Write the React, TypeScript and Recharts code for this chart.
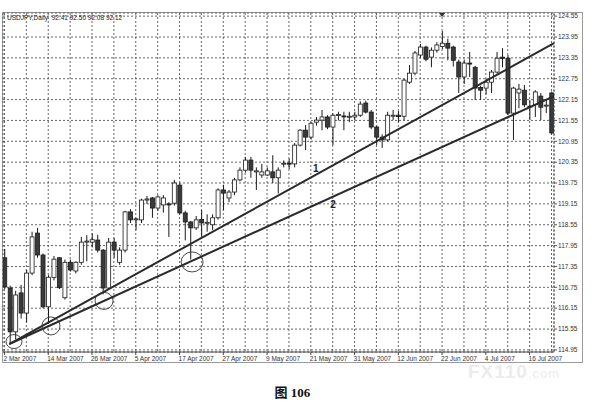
import React from "react";
import { ComposedChart, Bar, XAxis, YAxis, CartesianGrid, ReferenceLine, ReferenceDot } from "recharts";

// ---- data ----
const openP = [117.60,116.73,115.47,116.59,116.01,117.16,118.31,117.68,116.19,117.03,117.60,116.45,117.47,117.22,117.47,118.05,118.05,118.11,117.82,116.73,118.05,117.47,117.82,118.92,118.69,118.69,119.26,119.32,119.03,119.12,119.15,119.17,119.69,118.89,118.63,118.46,118.70,118.60,118.55,118.75,119.55,119.32,119.49,119.84,120.12,120.41,120.07,119.98,119.98,120.07,119.90,120.30,120.32,120.30,120.84,121.27,121.07,121.50,121.56,121.65,121.36,121.70,121.68,121.65,121.65,121.70,122.05,121.79,121.36,121.07,120.99,121.68,121.70,121.67,122.65,122.91,123.43,123.66,123.37,123.57,123.68,123.77,123.66,123.23,122.80,123.20,123.08,122.50,122.48,122.65,122.94,123.37,123.34,121.76,122.34,122.42,121.96,122.00,122.25,121.97,122.34];
const highP = [117.85,116.80,116.65,116.82,117.25,118.35,118.46,117.72,117.10,117.65,117.62,117.55,117.55,117.50,118.20,118.25,118.30,118.26,117.85,118.17,118.17,117.90,118.95,119.00,118.75,119.30,119.38,119.35,119.40,119.40,119.20,119.84,119.75,118.95,118.66,118.80,118.97,118.85,118.85,119.60,119.70,119.55,119.90,120.20,120.50,120.50,120.20,120.30,120.20,120.55,120.20,120.40,120.45,120.90,121.30,121.42,121.50,121.65,121.85,121.70,121.75,121.80,121.80,121.80,121.80,122.10,122.12,121.85,121.40,121.15,121.80,121.85,121.82,122.75,123.14,123.55,123.75,123.70,123.65,123.80,124.12,123.90,123.70,123.30,123.30,123.52,123.12,122.55,122.75,123.00,123.52,123.63,123.43,122.52,122.60,122.57,122.14,122.42,122.34,122.14,122.38];
const lowP = [116.70,115.15,115.25,115.85,115.75,117.10,117.60,116.15,115.70,116.95,116.70,116.40,117.20,117.15,117.40,117.50,117.90,117.75,116.55,116.70,117.60,117.40,117.75,118.60,118.40,118.60,119.15,118.75,118.95,118.90,118.20,119.10,118.85,118.10,117.55,118.40,118.20,118.35,118.40,118.70,118.97,119.20,119.40,119.80,120.05,119.90,119.55,119.90,119.95,119.75,119.45,120.20,120.15,120.20,120.80,120.70,121.00,121.40,121.27,121.30,120.84,121.55,121.27,121.50,121.55,121.65,121.75,121.30,120.84,120.76,120.95,121.56,121.50,121.56,122.60,122.85,123.35,123.25,123.08,123.50,123.60,123.28,123.10,122.34,122.60,122.80,122.14,122.14,122.30,122.34,122.90,123.08,121.70,120.99,121.90,121.93,121.56,121.65,121.56,121.76,121.15];
const closeP = [116.76,115.47,116.53,116.01,117.16,118.20,117.68,116.19,117.04,117.56,116.74,117.47,117.25,117.47,118.05,118.08,118.12,117.82,116.73,118.05,117.82,117.82,118.92,118.69,118.72,119.26,119.29,119.03,119.35,119.32,119.12,119.75,118.89,118.63,118.46,118.69,118.60,118.62,118.75,119.55,119.46,119.49,119.84,120.12,120.41,120.12,120.10,120.07,120.10,119.90,120.12,120.32,120.30,120.84,121.27,121.07,121.47,121.56,121.65,121.36,121.70,121.72,121.66,121.67,121.70,122.02,121.79,121.36,121.07,120.99,121.70,121.70,121.66,122.71,122.91,123.49,123.66,123.31,123.57,123.72,123.77,123.63,123.28,122.80,123.20,123.18,122.48,122.42,122.65,122.94,123.34,123.33,121.76,122.48,122.45,122.00,121.93,122.37,121.93,121.99,121.19];

const xLabelIdx = [0, 8, 16, 24, 32, 40, 48, 56, 64, 72, 80, 88, 96];
const xTickLabels = ["2 Mar 2007", "14 Mar 2007", "26 Mar 2007", "5 Apr 2007", "17 Apr 2007", "27 Apr 2007", "9 May 2007", "21 May 2007", "31 May 2007", "12 Jun 2007", "22 Jun 2007", "4 Jul 2007", "16 Jul 2007"];
const xGridIdx = [0, 4, 8, 12, 16, 20, 24, 28, 32, 36, 40, 44, 48, 52, 56, 60, 64, 68, 72, 76, 80, 84, 88, 92, 96, 100];
const yTicks = [114.95, 115.55, 116.15, 116.75, 117.35, 117.95, 118.55, 119.15, 119.75, 120.35, 120.95, 121.55, 122.15, 122.75, 123.35, 123.95, 124.55];

const trendX = [0.88, 100.46];
const trend1Y = [115.12, 123.77];
const trend2Y = [115.12, 122.25];

const circleX = [1.74, 8.5, 18.2, 34.3];
const circleY = [115.19, 115.64, 116.36, 117.48];

const markX = [56.9, 60.05];
const markY = [120.18, 119.12];
const markText = ["1", "2"];

const highMarkX = 80;
const highMarkY = 124.6;

const headerText = "USDJPY,Daily  92.41 92.50 92.08 92.12";
const captionText = "图 106";

// ---- styles ----
const X_MIN = -0.27;
const X_MAX = 100.46;
const Y_MIN = 114.89;
const Y_MAX = 124.64;
const ELLIPSE_R = [[8, 7], [9, 9], [9, 8.5], [11, 10]];
const SANS = "'Liberation Sans', 'DejaVu Sans', sans-serif";

const data = openP.map((o, i) => ({
  i,
  open: o,
  high: highP[i],
  low: lowP[i],
  close: closeP[i],
  range: [lowP[i], highP[i]],
}));

const Candle = (props: any) => {
  const { x, width, payload } = props;
  let { y, height } = props;
  if (!payload || y == null) return null;
  if (height < 0) { y = y + height; height = -height; }
  const { open, close, high, low } = payload;
  const span = high - low;
  const pix = (v: number) => (span > 0 ? y + ((high - v) / span) * height : y);
  const cx = x + width / 2;
  const top = pix(Math.max(open, close));
  const bot = pix(Math.min(open, close));
  const up = close >= open;
  return (
    <g>
      <line x1={cx} x2={cx} y1={y} y2={y + height} stroke="#1a1a1a" strokeWidth={1} />
      <rect x={x} y={top} width={width} height={Math.max(1, bot - top)} fill={up ? "#ffffff" : "#3a3a3a"} stroke="#1a1a1a" strokeWidth={0.8} />
    </g>
  );
};

const XTick = (props: any) => {
  const { x, y, payload } = props;
  const v = payload.value;
  const k = xLabelIdx.indexOf(v);
  if (k < 0) return null;
  return (
    <g>
      <line x1={x} x2={x} y1={y - 2} y2={y + 1} stroke="#444" strokeWidth={1} />
      <text x={x - 1} y={y + 7} textAnchor="start" fontSize={6.5} fill="#333" fontFamily={SANS}>{xTickLabels[k]}</text>
    </g>
  );
};

export default function App() {
  return (
    <div style={{ position: "absolute", left: 0, top: 0, width: 595, height: 409, background: "#fff", overflow: "hidden" }}>
      <div style={{ position: "absolute", left: 2, top: 12, width: 581, height: 351, border: "1px solid #9a9a9a", boxSizing: "border-box" }} />
      <div style={{ position: "absolute", left: 0, top: 0 }}>
        <ComposedChart width={595} height={409} data={data} margin={{ top: 13, right: 3, bottom: 45, left: 3 }}>
          <CartesianGrid stroke="#555" strokeDasharray="2 2" strokeWidth={0.9} />
          <XAxis
            type="number"
            dataKey="i"
            domain={[X_MIN, X_MAX]}
            allowDataOverflow
            ticks={xGridIdx}
            interval={0}
            height={12}
            tickSize={2}
            tickMargin={0}
            tickLine={false}
            axisLine={{ stroke: "#444", strokeWidth: 1 }}
            tick={<XTick />}
          />
          <YAxis
            orientation="right"
            type="number"
            domain={[Y_MIN, Y_MAX]}
            allowDataOverflow
            ticks={yTicks}
            interval={0}
            width={38}
            tickSize={3}
            tickMargin={1}
            axisLine={false}
            tickLine={{ stroke: "#555" }}
            tickFormatter={(v: number) => v.toFixed(2)}
            tick={{ fontSize: 6.5, fill: "#333", fontFamily: SANS }}
          />
          <ReferenceLine x={X_MAX} stroke="#555" strokeDasharray="2 2" />
          <Bar dataKey="range" barSize={4} shape={<Candle />} isAnimationActive={false} />
          <ReferenceLine
            segment={[{ x: trendX[0], y: trend1Y[0] }, { x: trendX[1], y: trend1Y[1] }]}
            stroke="#2a2a2a"
            strokeWidth={2}
          />
          <ReferenceLine
            segment={[{ x: trendX[0], y: trend2Y[0] }, { x: trendX[1], y: trend2Y[1] }]}
            stroke="#2a2a2a"
            strokeWidth={2}
          />
          {circleX.map((cx, k) => (
            <ReferenceDot
              key={"c" + k}
              x={cx}
              y={circleY[k]}
              r={9}
              shape={(p: any) => (
                <ellipse cx={p.cx} cy={p.cy} rx={ELLIPSE_R[k][0]} ry={ELLIPSE_R[k][1]} fill="none" stroke="#333" strokeWidth={0.9} />
              )}
            />
          ))}
          {markX.map((mx, k) => (
            <ReferenceDot
              key={"m" + k}
              x={mx}
              y={markY[k]}
              r={4}
              shape={(p: any) => (
                <text x={p.cx} y={p.cy + 3.5} textAnchor="middle" fontSize={10} fontWeight="bold" style={{ fill: "#222", stroke: "none" }} fontFamily={SANS}>{markText[k]}</text>
              )}
            />
          ))}
          <ReferenceDot
            x={highMarkX}
            y={highMarkY}
            r={3}
            shape={(p: any) => (
              <polygon points={`${p.cx - 3},${p.cy - 1.5} ${p.cx + 3},${p.cy - 1.5} ${p.cx},${p.cy + 2.5}`} fill="#333" />
            )}
          />
        </ComposedChart>
      </div>
      <div style={{ position: "absolute", left: 7, top: 14, fontSize: 6.5, color: "#222", fontFamily: SANS, whiteSpace: "pre", lineHeight: "8px" }}>{headerText}</div>
      <div style={{ position: "absolute", left: 468, top: 361, fontSize: 19, fontWeight: "bold", color: "#ececec", fontFamily: SANS, letterSpacing: 1 }}>FX110<span style={{ fontSize: 13, fontWeight: "normal" }}>.com</span></div>
      <div style={{ position: "absolute", left: 0, width: 585, top: 382, textAlign: "center", fontSize: 13, fontWeight: "bold", color: "#111", fontFamily: "'Liberation Serif', 'Noto Sans CJK SC', serif" }}>{captionText}</div>
    </div>
  );
}
